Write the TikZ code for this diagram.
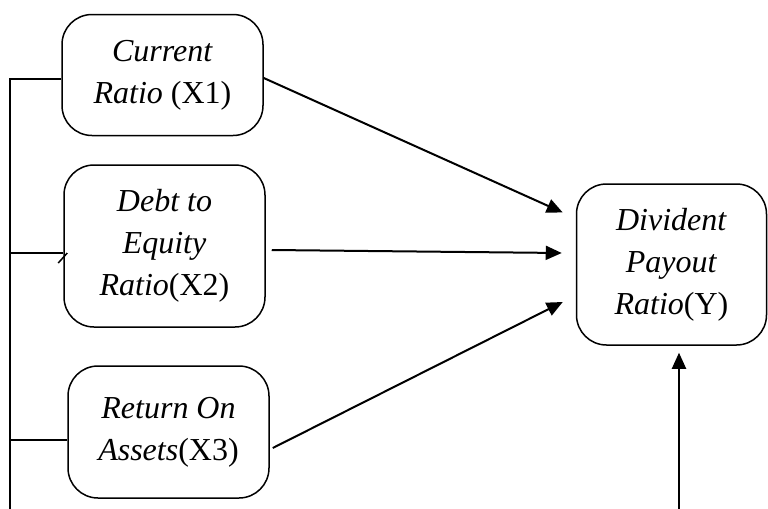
\documentclass[tikz,border=0pt]{standalone}
\usepackage{fontspec}
\setmainfont{Liberation Serif}[ItalicFont={Liberation Serif Italic}]
\usetikzlibrary{positioning,arrows.meta}
\tikzset{
  varbox/.style = {shape=rectangle, rounded corners=15pt,
                   draw, align=center, inner sep=0pt,
                   minimum width=100.5pt,
                   font=\fontsize{16}{21}\selectfont},
  depbox/.style = {varbox, minimum width=95pt, minimum height=80.5pt},
  link/.style   = {-},
  effect/.style = {->, line width=1pt}
}

\begin{document}
\begin{tikzpicture} [x=0.5pt,y=-0.5pt,>={Triangle[length=8pt,width=7pt]},
   line width=0.75pt]
\useasboundingbox (0,0) rectangle (768,509);
\node [varbox, minimum height=60.5pt] (cr)  at (162.5,75)  {\textit{Current}\\\textit{Ratio} (X1)};
\node [varbox, minimum height=81pt]   (der) at (164.5,246) {\textit{Debt to}\\\textit{Equity}\\\textit{Ratio}(X2)};
\node [varbox, minimum height=66pt]   (roa) at (168.5,432) {\textit{Return On}\\\textit{Assets}(X3)};
\node [depbox] (dpr) at (671.5,264.5) {\textit{Divident}\\\textit{Payout}\\\textit{Ratio}(Y)};
\coordinate (busend) at (10,509);
\coordinate (ctrl)   at (679,509);
% common line on the left
\draw [link] ([yshift=-2pt]cr.west)   -| (busend);
\draw [link] ([yshift=-3.5pt]der.west) -| (busend);
\draw [link] ([yshift=-4pt]roa.west)  -| (busend);
\draw [link] ([xshift=-2.5pt,yshift=-8.5pt]der.west) -- ++(9,-10);
% effects on Y
\draw [effect] ([yshift=-1.5pt]cr.east) -- ([xshift=-6.5pt,yshift=26pt]dpr.west);
\draw [effect] ([xshift=3pt,yshift=-2pt]der.east) -- ([xshift=-7pt,yshift=5.75pt]dpr.west);
\draw [effect] ([xshift=1.5pt,yshift=-8pt]roa.east) -- ([xshift=-6.5pt,yshift=-18.75pt]dpr.west);
\draw [effect] (ctrl) -- ([xshift=3.75pt,yshift=-3.5pt]dpr.south);
\end{tikzpicture}
\end{document}
